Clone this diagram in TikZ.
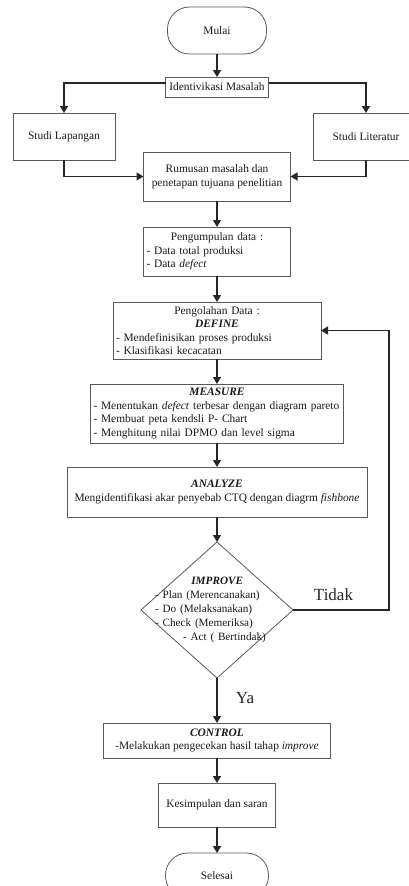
\documentclass[tikz,border=0pt]{standalone}
\usepackage{fontspec}
\setmainfont{Liberation Serif}
\usetikzlibrary{shapes.geometric,arrows.meta}
\begin{document}
\begin{tikzpicture}[x=1pt,y=-1pt,
  box/.style={draw=black!65, line width=0.8pt, rectangle, inner sep=3pt, outer sep=0pt,
    font=\fontsize{11.4}{13.6}\selectfont, text=black!90},
  term/.style={box, rounded corners=22pt},
  conn/.style={line width=1.4pt, draw=black!85, -{Triangle[length=7pt,width=8pt]}},
  lbl/.style={font=\fontsize{17}{20}\selectfont, text=black!85, inner sep=0pt}]
\useasboundingbox (0,0) rectangle (409,886);

\node[term, minimum width=99pt, minimum height=47pt] (mulai) at (217,30.5) {Mulai};
\node[box, minimum width=103pt, minimum height=20pt, inner sep=1pt] (ident) at (217,87) {Identivikasi Masalah};
\node[box, minimum width=102pt, minimum height=47pt] (lap) at (64,136.5) {Studi Lapangan};
\node[box, minimum width=106pt, minimum height=47pt] (lit) at (366,136.5) {Studi Literatur};
\node[box, minimum width=147pt, minimum height=49pt, align=center] (rum) at (217,176.5)
  {Rumusan masalah dan\\penetapan tujuana penelitian};
\node[box, minimum width=147pt, minimum height=49pt, text width=141pt, align=left] (peng) at (217,251.5)
  {\makebox[\linewidth][c]{Pengumpulan data :}\\- Data total produksi\\- Data \textit{defect}};
\node[box, minimum width=208pt, minimum height=57pt, text width=202pt, align=left] (pen) at (217,330.5)
  {\makebox[\linewidth][c]{Pengolahan Data :}\\\makebox[\linewidth][c]{\textbf{\textit{DEFINE}}}\\- Mendefinisikan proses produksi\\- Klasifikasi kecacatan};
\node[box, minimum width=253pt, minimum height=59pt, text width=247pt, align=left] (meas) at (217,413.5)
  {\makebox[\linewidth][c]{\textbf{\textit{MEASURE}}}\\- Menentukan \textit{defect} terbesar dengan diagram pareto\\- Membuat peta kendsli P- Chart\\- Menghitung nilai DPMO dan level sigma};
\node[box, minimum width=300pt, minimum height=50pt, align=center] (ana) at (217,492)
  {\textbf{\textit{ANALYZE}}\\Mengidentifikasi akar penyebab CTQ dengan diagrm \textit{fishbone}};
\node[diamond, draw=black!65, line width=0.8pt, minimum width=152pt, minimum height=136pt,
  inner sep=0pt, outer sep=0pt] (imp) at (217,610) {};
\node[anchor=west, inner sep=0pt, text width=124pt, align=left,
  font=\fontsize{11.2}{13.8}\selectfont, text=black!90] (imptxt) at (155,610)
  {\makebox[\linewidth][c]{\textbf{\textit{IMPROVE}}}\\- Plan (Merencanakan)\\- Do (Melaksanakan)\\- Check (Memeriksa)\\\hspace*{28pt}- Act ( Bertindak)};
\node[box, minimum width=227pt, minimum height=35pt, align=center] (ctrl) at (217,740.5)
  {\textbf{\textit{CONTROL}}\\-Melakukan pengecekan hasil tahap \textit{improve}};
\node[box, minimum width=117pt, minimum height=44pt] (kes) at (217,805) {Kesimpulan dan saran};
\node[term, minimum width=103pt, minimum height=45pt] (sel) at (217,875.5) {Selesai};

\node[lbl] (tidak) at (333.5,595) {Tidak};
\node[lbl] (ya) at (245,698) {Ya};

\coordinate (fb) at (389,610);

\draw[conn] (mulai) -- (ident);
\draw[conn] ([yshift=4pt]ident.west) -| (lap.north);
\draw[conn] ([yshift=4pt]ident.east) -| (lit.north);
\draw[conn] (lap.south) |- (rum.west);
\draw[conn] (lit.south) |- (rum.east);
\draw[conn] (rum) -- (peng);
\draw[conn] (peng) -- (pen);
\draw[conn] (pen) -- (meas);
\draw[conn] (meas) -- (ana);
\draw[conn] (ana) -- (imp);
\draw[conn] (imp) -- (ctrl);
\draw[conn] (ctrl) -- (kes);
\draw[conn] (kes) -- (sel);
\draw[conn] (imp.east) -- (fb) |- (pen.east);
\end{tikzpicture}
\end{document}
